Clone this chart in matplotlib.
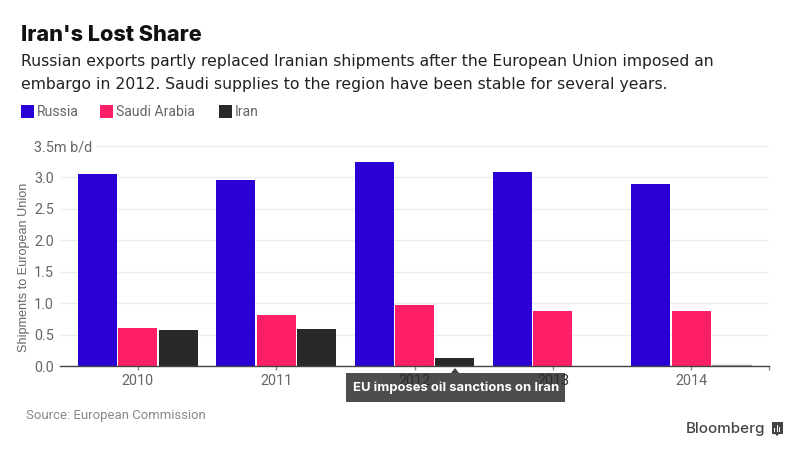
import matplotlib
matplotlib.use("Agg")
import matplotlib.pyplot as plt
from matplotlib.patches import Rectangle, Polygon
import numpy as np

years = ["2010", "2011", "2012", "2013", "2014"]
russia = [3.06, 2.96, 3.24, 3.09, 2.89]
saudi = [0.61, 0.82, 0.97, 0.88, 0.88]
iran = [0.58, 0.60, 0.13, 0.0, 0.015]
series = [("Russia", russia, "#2A00D5"), ("Saudi Arabia", saudi, "#FF1F66"), ("Iran", iran, "#292929")]
yticks = [0, 0.5, 1, 1.5, 2, 2.5, 3, 3.5]
ylabels = ["0.0", "0.5", "1.0", "1.5", "2.0", "2.5", "3.0", "3.5m b/d"]

W, H = 799, 454
fig = plt.figure(figsize=(W / 100, H / 100), dpi=100, facecolor="white")
def fx(x): return x / W
def fy(y): return 1 - y / H

ax = fig.add_axes([fx(60), fy(366.3), (769 - 60) / W, (366.3 - 146) / H])
ax.patch.set_visible(False)
x = np.arange(len(years))
for i, (name, vals, col) in enumerate(series):
    bars = ax.bar(x + (i - 1) * 0.2924, vals, width=0.2816, color=col, zorder=3, label=name)
# the almost-zero 2014 Iran bar renders as a faint sliver
bars[-1].set_color("#A8A8A8")
ax.set_xlim(-0.56, 4.56)
ax.set_ylim(0, 3.5)
for s in ["top", "left", "right"]:
    ax.spines[s].set_visible(False)
ax.spines["bottom"].set_color("#444444")
ax.spines["bottom"].set_linewidth(1.0)
ax.spines["bottom"].set_zorder(4)
ax.grid(axis="y", color="#EDEDED", lw=1.0, zorder=0)
ax.set_axisbelow(True)
ax.set_xticks(x, years)
ax.set_xticks([4.56], minor=True)
ax.tick_params(axis="x", which="both", length=3, width=1, color="#888888", labelsize=10.4,
               labelcolor="#666666", pad=2.5)
for t in ax.get_xticklabels():
    t.set_fontfamily("Roboto")
    if t.get_text() in ("2012", "2013"):
        t.set_color("#2B2B2B")
ax.set_yticks(yticks, ylabels)
ax.tick_params(axis="y", length=0, labelsize=10.4, labelcolor="#666666", pad=26)
labs = ax.get_yticklabels()
for t in labs:
    t.set_ha("left")
    t.set_fontfamily("Roboto")
labs[-1].set_bbox(dict(facecolor="white", edgecolor="none", pad=3.5))
for t in labs:
    t.set_transform(matplotlib.transforms.blended_transform_factory(fig.transFigure, ax.transData))
    t.set_position((fx(34), t.get_position()[1]))

fig.text(fx(24), fy(267), "Shipments to European Union", rotation=90, ha="center", va="center",
         fontsize=9.1, color="#666666", family="Liberation Sans")

fig.text(fx(21), fy(35), "Iran's Lost Share", fontsize=15.6, fontweight="heavy", color="#111111",
         family="Inter", ha="left", va="center")
fig.text(fx(21), fy(61.5), "Russian exports partly replaced Iranian shipments after the European Union imposed an",
         fontsize=11.25, color="#222222", family="DejaVu Sans", ha="left", va="center")
fig.text(fx(21), fy(84), "embargo in 2012. Saudi supplies to the region have been stable for several years.",
         fontsize=11.25, color="#222222", family="DejaVu Sans", ha="left", va="center")

for lx, tx, (name, _, col) in zip([21, 100, 219], [37, 116, 235], series):
    fig.add_artist(Rectangle((fx(lx), fy(118)), 13 / W, 13 / H, transform=fig.transFigure, color=col, lw=0))
    fig.text(fx(tx), fy(112.5), name, fontsize=10.1, color="#666666", family="Roboto", ha="left", va="center")

fig.text(fx(26), fy(415), "Source: European Commission", fontsize=9.45, color="#888888",
         family="Roboto", ha="left", va="center")

# annotation: box sits under the axes, so the year labels show through as in the reference
fig.patches.append(Rectangle((fx(346), fy(402)), 219 / W, 29 / H, transform=fig.transFigure,
                             facecolor="#4D4D4D", lw=0, zorder=-1, figure=fig))
fig.add_artist(Polygon([(fx(451), fy(373)), (fx(459), fy(373)), (fx(455), fy(368))], closed=True,
                       transform=fig.transFigure, facecolor="#444444", lw=0, zorder=10))
fig.text(fx(456), fy(388), "EU imposes oil sanctions on Iran", fontsize=9.4, fontweight="bold", color="white",
         family="Inter", ha="center", va="center", zorder=11)

# brand
fig.text(fx(765), fy(428.5), "Bloomberg", fontsize=10.9, fontweight="medium", color="#444444",
         family="Inter", ha="right", va="center")
fig.add_artist(Rectangle((fx(771.5), fy(434)), 11.5 / W, 12 / H, transform=fig.transFigure, facecolor="#444444", lw=0))
fig.add_artist(Polygon([(fx(775), fy(434)), (fx(779), fy(434)), (fx(777), fy(436))], closed=True,
                       transform=fig.transFigure, facecolor="#444444", lw=0))
for bx, bh in zip([774, 776.5, 779], [4, 7, 5]):
    fig.add_artist(Rectangle((fx(bx), fy(432)), 1.3 / W, bh / H, transform=fig.transFigure, facecolor="white", lw=0))

fig.savefig("out.png", dpi=100)
